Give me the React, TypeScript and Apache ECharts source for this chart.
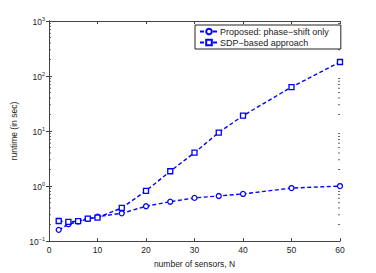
import React, { useEffect, useRef } from "react";
import * as echarts from "echarts";

const sensors = [2, 4, 6, 8, 10, 15, 20, 25, 30, 35, 40, 50, 60];
const proposed = [0.16, 0.203, 0.226, 0.253, 0.278, 0.32, 0.43, 0.52, 0.61, 0.66, 0.72, 0.92, 1.0];
const sdp = [0.232, 0.223, 0.23, 0.256, 0.268, 0.4, 0.82, 1.86, 4.04, 9.4, 19, 63, 180];
const seriesNames = ["Proposed: phase\u2212shift only", "SDP\u2212based approach"];
const xTicks = [0, 10, 20, 30, 40, 50, 60];
const decades = [0.1, 1, 10, 100];
const minorMultipliers = [2, 3, 4, 5, 6, 7, 8, 9];

const FONT = "Liberation Sans, Arial, Helvetica, sans-serif";
const AXIS_COLOR = "#444";
const BLUE = "#0000ff";

export default function App() {
  const ref = useRef<HTMLDivElement>(null);
  useEffect(() => {
    if (!ref.current) return;
    const chart = echarts.init(ref.current, undefined, { renderer: "svg" });
    const minorVals: number[] = [];
    decades.forEach((d) => minorMultipliers.forEach((m) => minorVals.push(+(d * m).toPrecision(6))));
    const xMin = xTicks[0];
    const xMax = xTicks[xTicks.length - 1];
    const expOf = (v: number) => Math.round(Math.log10(v));
    const yLabel = (v: number) => `{b|10}{s|${expOf(v) < 0 ? "\u2212" + Math.abs(expOf(v)) : expOf(v)}}`;
    const axisCommon = {
      axisLine: { show: true, lineStyle: { color: AXIS_COLOR, width: 1 } },
      axisTick: { show: true, inside: true, length: 3, lineStyle: { color: AXIS_COLOR } },
      splitLine: { show: false },
    };
    const tickSeries = (x: number, offset: number) => ({
      type: "scatter",
      silent: true,
      clip: false,
      data: minorVals.map((v) => [x, v]),
      symbol: "rect",
      symbolSize: [2, 1],
      symbolOffset: [offset, 0],
      itemStyle: { color: AXIS_COLOR },
      z: 1,
    });
    chart.setOption({
      animation: false,
      textStyle: { fontFamily: FONT },
      grid: { left: 49, right: 36, top: 21, bottom: 31, containLabel: false },
      legend: {
        show: true,
        left: 195,
        top: 25,
        orient: "vertical",
        backgroundColor: "#fff",
        borderColor: "#222",
        borderWidth: 1,
        borderRadius: 0,
        padding: [1, 12, 1, 4],
        itemGap: 0,
        itemWidth: 18,
        itemHeight: 7,
        textStyle: { fontSize: 9, color: "#222", fontFamily: FONT, padding: [0, 0, 0, -3], lineHeight: 11 },
        data: seriesNames,
      },
      xAxis: [
        {
          type: "value",
          min: xMin,
          max: xMax,
          interval: 10,
          name: "number of sensors, N",
          nameLocation: "middle",
          nameGap: 10,
          nameTextStyle: { fontSize: 8.5, color: "#222", fontFamily: FONT },
          axisLabel: { fontSize: 8.5, color: "#222", margin: 4, fontFamily: FONT },
          ...axisCommon,
        },
        {
          type: "value",
          position: "top",
          min: xMin,
          max: xMax,
          interval: 10,
          axisLabel: { show: false },
          ...axisCommon,
        },
      ],
      yAxis: [
        {
          type: "log",
          logBase: 10,
          min: 0.1,
          max: 1000,
          name: "runtime (in sec)",
          nameLocation: "middle",
          nameGap: 17,
          nameTextStyle: { fontSize: 8.5, color: "#222", fontFamily: FONT },
          axisLabel: {
            margin: 4,
            formatter: (v: number) => yLabel(v),
            rich: {
              b: { fontSize: 8.5, color: "#222", fontFamily: FONT, verticalAlign: "bottom", lineHeight: 10 },
              s: { fontSize: 5.5, color: "#222", fontFamily: FONT, verticalAlign: "top", lineHeight: 10, padding: [0, 0, 6, 0] },
            },
          },
          ...axisCommon,
        },
        {
          type: "log",
          logBase: 10,
          min: 0.1,
          max: 1000,
          position: "right",
          axisLabel: { show: false },
          ...axisCommon,
        },
      ],
      series: [
        {
          name: seriesNames[0],
          type: "line",
          data: sensors.map((x, i) => [x, proposed[i]]),
          symbol: "circle",
          symbolSize: 5,
          showAllSymbol: true,
          lineStyle: { color: BLUE, width: 1.4, type: [4, 2.5] },
          itemStyle: { color: "#fff", borderColor: BLUE, borderWidth: 1.3 },
          z: 3,
        },
        {
          name: seriesNames[1],
          type: "line",
          data: sensors.map((x, i) => [x, sdp[i]]),
          symbol: "rect",
          symbolSize: 5,
          showAllSymbol: true,
          lineStyle: { color: BLUE, width: 1.4, type: [4, 2.5] },
          itemStyle: { color: "#fff", borderColor: BLUE, borderWidth: 1.3 },
          z: 3,
        },
        tickSeries(xMin, 1),
        tickSeries(xMax, -1),
      ],
    });
    return () => chart.dispose();
  }, []);
  return <div ref={ref} style={{ width: 376, height: 273, position: "absolute", left: 0, top: 0 }} />;
}
